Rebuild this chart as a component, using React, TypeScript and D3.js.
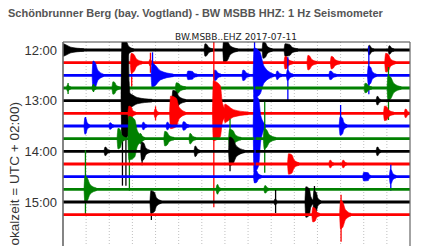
import React from "react";
import * as d3 from "d3";

const TITLE = "Schönbrunner Berg (bay. Vogtland) - BW MSBB HHZ: 1 Hz Seismometer";
const SUBTITLE = "BW.MSBB..EHZ 2017-07-11";
const Y_LABEL = "(Lokalzeit = UTC + 02:00)";

// 15-minute traces, starting 12:00
const ROW_COUNT = 14;
const ROW_COLORS = ["#000000", "#ff0000", "#0000ff", "#008000"];
const TICK_ROWS = [0, 4, 8, 12];
const TICK_LABELS = ["12:00", "13:00", "14:00", "15:00"];
const MINUTE_TICKS = [1, 2, 3, 4, 5, 6, 7, 8, 9, 10, 11, 12, 13, 14];

// events: [row, minute, ampUp, ampDown, coreWidth(min), decay(min), spikeUp, spikeDown]
const EVENTS: number[][] = [
  [0, 0.0, 5, 5, 0.1, 0.8, 0, 0],
  [0, 2.65, 8, 8, 0.1, 0.3, 0, 0],
  [0, 6.14, 5, 5, 0.08, 0.25, 0, 0],
  [0, 6.95, 9, 11, 0.15, 0.45, 10, 13],
  [0, 8.65, 7, 7, 0.1, 0.3, 0, 0],
  [0, 9.6, 5, 5, 0.2, 0.35, 0, 0],
  [0, 13.23, 3.5, 3.5, 0.05, 0.15, 0, 0],
  [0, 14.1, 3, 3, 0.05, 0.15, 0, 0],

  [1, 2.95, 8, 9, 0.12, 0.35, 0, 24],
  [1, 3.76, 2, 2, 0.03, 0.1, 10, 10],
  [1, 9.6, 5, 5, 0.08, 0.25, 0, 0],
  [1, 10.59, 6, 6, 0.08, 0.3, 0, 0],
  [1, 11.6, 5, 5, 0.08, 0.3, 0, 0],
  [1, 13.95, 8, 8, 0.12, 0.3, 0, 0],

  [2, 1.3, 13, 13, 0.1, 0.35, 0, 0],
  [2, 3.85, 11, 11, 0.12, 0.8, 23, 0],
  [2, 5.4, 3, 3, 0.2, 0.2, 0, 0],
  [2, 6.55, 4, 4, 0.08, 0.2, 0, 0],
  [2, 7.78, 4, 4, 0.08, 0.2, 0, 0],
  [2, 8.26, 26, 21, 0.25, 0.6, 36, 46],
  [2, 9.25, 3, 3, 0.05, 0.15, 0, 0],
  [2, 9.7, 4, 4, 0.05, 0.2, 18, 25],
  [2, 11.54, 3, 3, 0.08, 0.2, 0, 0],
  [2, 13.2, 8, 8, 0.1, 0.25, 29, 19],

  [3, 0.2, 2, 2, 0.03, 0.1, 5, 6],
  [3, 1.3, 2, 2, 0.03, 0.1, 4, 4],
  [3, 2.16, 5, 5, 0.08, 0.2, 0, 0],
  [3, 4.9, 4, 4, 0.1, 0.3, 0, 0],
  [3, 13.06, 3.5, 3.5, 0.08, 0.2, 0, 0],
  [3, 14.05, 11, 11, 0.12, 0.45, 21, 32],

  [4, 2.55, 59, 39, 0.28, 0.1, 0, 85],
  [4, 2.7, 0, 0, 0, 0, 0, 85],
  [4, 2.85, 6, 6, 0.1, 0.9, 0, 0],
  [4, 4.75, 9, 9, 0.15, 0.4, 0, 0],
  [4, 13.58, 3, 3, 0.05, 0.1, 0, 0],

  [5, 2.85, 6, 6, 0.1, 0.2, 0, 0],
  [5, 3.98, 3, 3, 0.05, 0.1, 7, 7],
  [5, 4.65, 16, 14, 0.25, 0.4, 0, 0],
  [5, 6.5, 31, 26, 0.3, 0.3, 72, 94],
  [5, 7.0, 8, 8, 0.1, 0.9, 0, 0],
  [5, 13.9, 6, 6, 0.1, 0.3, 0, 0],
  [5, 14.8, 3, 3, 0.05, 0.1, 0, 0],

  [6, 0.95, 7, 7, 0.05, 0.15, 9, 7],
  [6, 2.03, 2, 2, 0.05, 0.1, 0, 0],
  [6, 3.46, 2.5, 2.5, 0.05, 0.1, 0, 0],
  [6, 4.5, 2.5, 2.5, 0.05, 0.1, 0, 0],
  [6, 5.2, 3, 3, 0.08, 0.15, 0, 0],
  [6, 8.26, 30, 45, 0.2, 0.3, 40, 55],
  [6, 11.98, 8, 8, 0.1, 0.2, 21, 0],

  [7, 2.38, 9, 9, 0.1, 0.2, 0, 0],
  [7, 2.85, 21, 20, 0.25, 0.4, 22, 52],
  [7, 3.33, 4, 4, 0.05, 0.15, 0, 0],
  [7, 4.4, 6, 6, 0.1, 0.3, 0, 0],
  [7, 5.49, 4, 4, 0.05, 0.2, 0, 0],
  [7, 7.2, 8, 8, 0.15, 0.35, 20, 0],
  [7, 8.7, 9, 9, 0.1, 0.4, 37, 34],

  [8, 1.82, 3, 3, 0.05, 0.15, 0, 0],
  [8, 3.4, 8, 8, 0.1, 0.25, 0, 14],
  [8, 5.71, 4, 4, 0.05, 0.15, 0, 0],
  [8, 7.2, 13, 13, 0.15, 0.5, 0, 20],
  [8, 13.58, 3, 3, 0.05, 0.1, 0, 0],

  [9, 9.75, 9, 9, 0.15, 0.3, 0, 0],
  [9, 11.54, 2.5, 2.5, 0.05, 0.1, 0, 0],
  [9, 12.1, 2.5, 2.5, 0.05, 0.1, 0, 0],

  [10, 8.28, 5, 5, 0.1, 0.2, 47, 6],
  [10, 13.0, 3, 3, 0.2, 0.1, 0, 0],
  [10, 14.15, 6, 6, 0.05, 0.2, 12, 14],

  [11, 0.95, 12, 12, 0.1, 0.4, 39, 25],
  [11, 6.66, 3, 3, 0.05, 0.1, 5, 5],
  [11, 8.73, 2.5, 2.5, 0.05, 0.1, 0, 0],

  [12, 3.8, 10, 10, 0.15, 0.3, 0, 18],
  [12, 9.17, 2, 2, 0.03, 0.05, 12, 11],
  [12, 10.5, 14, 14, 0.15, 0.2, 0, 0],
  [12, 10.85, 10, 10, 0.1, 0.2, 16, 14],

  [13, 10.8, 6, 6, 0.1, 0.2, 0, 0],
  [13, 12.0, 13, 13, 0.1, 0.35, 20, 27],
];

const W = 424;
const H = 246;
const M = { left: 63, right: 410, top: 42, bottom: 246 };

export default function App() {
  const x = d3.scaleLinear().domain([0, 15]).range([M.left, M.right]);
  const y = d3.scaleLinear().domain([0, 12]).range([50, 202]);
  const amp = d3.scaleLinear().domain([0, 100]).range([0, 100]);

  type P = { t: number; f: number };
  const envelope = (t: number, w: number, d: number): P[] => [
    { t: t - 0.04, f: 0 },
    { t: t, f: 1 },
    { t: t + w, f: 0.85 },
    { t: t + w + d * 0.3, f: 0.3 },
    { t: t + w + d, f: 0 },
  ];

  const rows = d3.range(ROW_COUNT);

  return (
    <svg
      width={W}
      height={H}
      style={{ position: "absolute", left: 0, top: 0, background: "#fff" }}
      fontFamily="'Liberation Sans', Arial, sans-serif"
    >
      <defs>
        <clipPath id="plotclip">
          <rect x={M.left} y={M.top} width={M.right - M.left} height={M.bottom - M.top} />
        </clipPath>
      </defs>
      <rect x={0} y={0} width={W} height={H} fill="#fff" />
      <text x={8} y={17} fontSize={11} fontWeight="bold" fill="#555">
        {TITLE}
      </text>
      <text
        x={236}
        y={40}
        fontSize={9}
        textAnchor="middle"
        fill="#222"
        fontFamily="'DejaVu Sans', sans-serif"
      >
        {SUBTITLE}
      </text>

      {/* grid */}
      {MINUTE_TICKS.map((m) => (
        <line
          key={m}
          x1={x(m)}
          x2={x(m)}
          y1={M.top}
          y2={M.bottom}
          stroke="#b0b0b0"
          strokeWidth={0.8}
          strokeDasharray="1,2"
        />
      ))}

      <g clipPath="url(#plotclip)">
        {rows.map((r) => {
          const color = ROW_COLORS[r % 4];
          const y0 = y(r);
          const evs = EVENTS.filter((e) => e[0] === r);
          return (
            <g key={r}>
              <line x1={x(0)} x2={x(15)} y1={y0} y2={y0} stroke={color} strokeWidth={2.8} />
              {evs.map((e, i) => {
                const [, t, au, ad, w, dcy, su, sd] = e;
                const pts = envelope(t, w, dcy);
                const area = d3
                  .area<P>()
                  .x((p) => x(Math.max(0, p.t)))
                  .y0((p) => y0 + amp(ad) * p.f + 1.3)
                  .y1((p) => y0 - amp(au) * p.f - 1.3)
                  .curve(d3.curveMonotoneX);
                return (
                  <g key={i}>
                    {au + ad > 0 && <path d={area(pts) || ""} fill={color} stroke={color} strokeWidth={0.6} />}
                    {su + sd > 0 && (
                      <line
                        x1={x(t + 0.02)}
                        x2={x(t + 0.02)}
                        y1={y0 - amp(su)}
                        y2={y0 + amp(sd)}
                        stroke={color}
                        strokeWidth={1.3}
                      />
                    )}
                  </g>
                );
              })}
            </g>
          );
        })}
      </g>

      {/* spines */}
      <line x1={M.left} x2={M.right} y1={M.top} y2={M.top} stroke="#444" strokeWidth={1} />
      <line x1={M.left} x2={M.left} y1={M.top} y2={M.bottom} stroke="#666" strokeWidth={1.6} />
      <line x1={M.right} x2={M.right} y1={M.top} y2={M.bottom} stroke="#666" strokeWidth={1.2} />

      {TICK_ROWS.map((r, i) => (
        <text
          key={r}
          x={57}
          y={y(r)}
          dy="0.35em"
          fontSize={13}
          textAnchor="end"
          fill="#333"
        >
          {TICK_LABELS[i]}
        </text>
      ))}

      <text
        transform={`translate(19, 102) rotate(-90)`}
        fontSize={13.6}
        textAnchor="end"
        fill="#333"
      >
        {Y_LABEL}
      </text>
    </svg>
  );
}
